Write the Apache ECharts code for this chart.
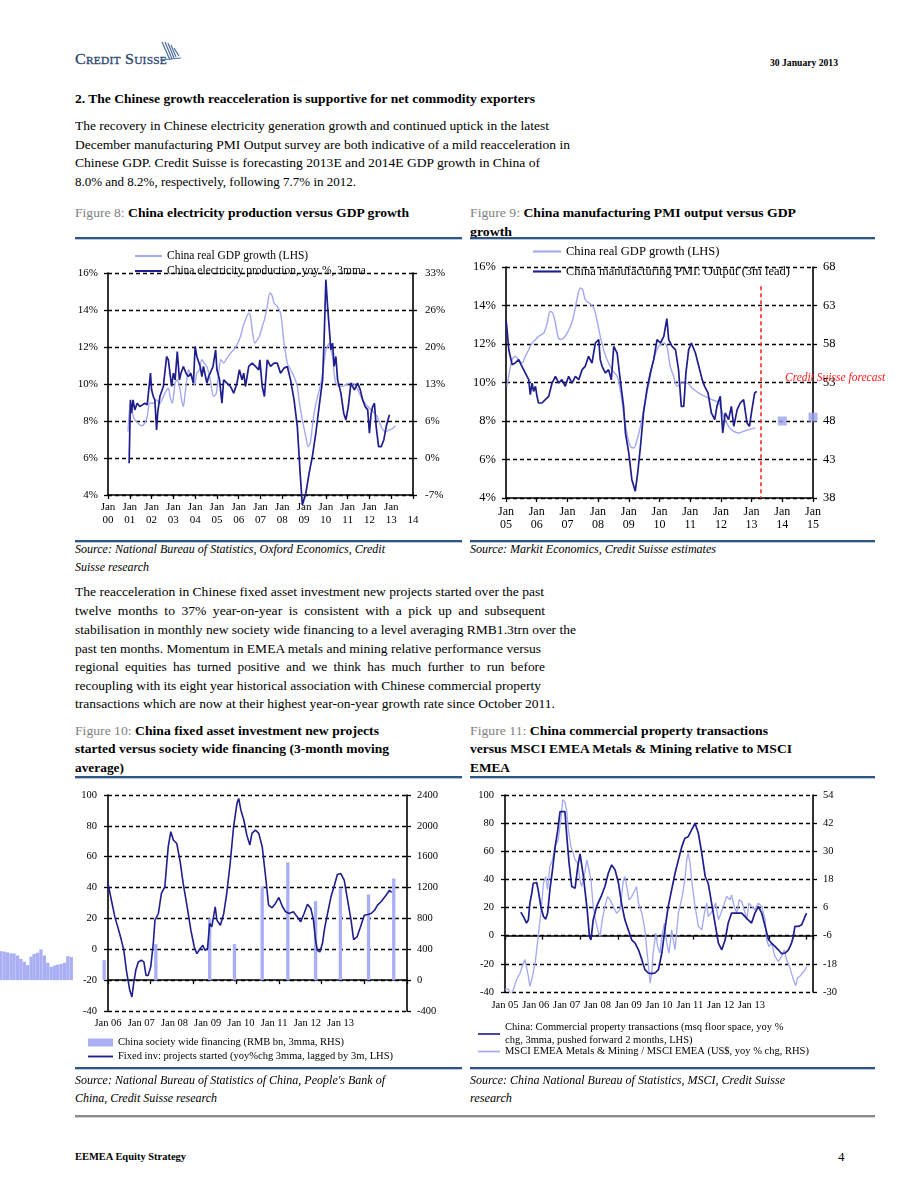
<!DOCTYPE html>
<html><head><meta charset="utf-8">
<script src="https://cdn.jsdelivr.net/npm/echarts@6/dist/echarts.min.js"></script>
<style>
html,body{margin:0;padding:0;background:#fff;}
#page{position:relative;width:920px;height:1191px;overflow:hidden;background:#fff;font-family:'Liberation Serif','Times New Roman',serif;color:#000;}
.t{position:absolute;white-space:nowrap;line-height:16px;transform-origin:0 50%;}
.body{font-size:13.5px;}
.b{font-weight:bold;}
.ft{font-size:13px;font-weight:bold;}
.ft .g{color:#808080;font-weight:normal;}
.src{font-size:11.5px;font-style:italic;}
.rule{position:absolute;height:2px;background:#2f5584;border-bottom:1px solid #b7c6da;}
.grule{position:absolute;height:2px;background:#8a8a8a;border-bottom:1px solid #d0d0d0;}
.ch{position:absolute;}
</style></head>
<body><div id="page">
<!-- header -->
<div class="t" style="left:75px;top:51px;font-size:15.5px;font-variant:small-caps;color:#2c4670;letter-spacing:0.2px;-webkit-text-stroke:0.3px #2c4670" data-w="92">Credit Suisse</div>
<svg style="position:absolute;left:158px;top:40px" width="26" height="24" viewBox="0 0 26 24">
<g stroke="#4d6e9c" stroke-width="1.2" fill="none">
<path d="M4 2 L12 20"/><path d="M7 2 L14 19"/><path d="M10 3 L16 18"/><path d="M13 5 L18 17"/><path d="M16 8 L21 16"/><path d="M2 20 L23 18"/>
</g></svg>
<div class="t b" style="left:770px;top:55px;font-size:10.5px" data-w="68">30 January 2013</div>
<div class="t b" style="left:75px;top:91px;font-size:13px" data-w="460">2. The Chinese growth reacceleration is supportive for net commodity exporters</div>
<div class="t body" style="left:75px;top:118px" data-w="474">The recovery in Chinese electricity generation growth and continued uptick in the latest</div>
<div class="t body" style="left:75px;top:137px" data-w="495">December manufacturing PMI Output survey are both indicative of a mild reacceleration in</div>
<div class="t body" style="left:75px;top:155px" data-w="465">Chinese GDP. Credit Suisse is forecasting 2013E and 2014E GDP growth in China of</div>
<div class="t body" style="left:75px;top:174px" data-w="281">8.0% and 8.2%, respectively, following 7.7% in 2012.</div>

<div class="t ft" style="left:75px;top:205px" data-w="334"><span class="g">Figure 8:</span> China electricity production versus GDP growth</div>
<div class="t ft" style="left:470px;top:205px" data-w="326"><span class="g">Figure 9:</span> China manufacturing PMI output versus GDP</div>
<div class="t ft" style="left:470px;top:224px" data-w="42">growth</div>
<div class="rule" style="left:75px;top:237px;width:387px"></div>
<div class="rule" style="left:470px;top:237px;width:405px"></div>

<div id="c8" class="ch" style="left:60px;top:240px;width:400px;height:300px"></div>
<div id="c9" class="ch" style="left:465px;top:240px;width:430px;height:298px"></div>

<div class="rule" style="left:75px;top:540px;width:387px"></div>
<div class="rule" style="left:470px;top:540px;width:405px"></div>
<div class="t src" style="left:75px;top:541px" data-w="310">Source: National Bureau of Statistics, Oxford Economics, Credit</div>
<div class="t src" style="left:75px;top:559px" data-w="74">Suisse research</div>
<div class="t src" style="left:470px;top:541px" data-w="246">Source: Markit Economics, Credit Suisse estimates</div>

<div class="t body" style="left:75px;top:584px" data-w="469">The reacceleration in Chinese fixed asset investment new projects started over the past</div>
<div class="t body" style="left:75px;top:603px;word-spacing:3px" data-w="470">twelve months to 37% year-on-year is consistent with a pick up and subsequent</div>
<div class="t body" style="left:75px;top:622px" data-w="501">stabilisation in monthly new society wide financing to a level averaging RMB1.3trn over the</div>
<div class="t body" style="left:75px;top:641px" data-w="466">past ten months. Momentum in EMEA metals and mining relative performance versus</div>
<div class="t body" style="left:75px;top:659px;word-spacing:3px" data-w="470">regional equities has turned positive and we think has much further to run before</div>
<div class="t body" style="left:75px;top:678px" data-w="466">recoupling with its eight year historical association with Chinese commercial property</div>
<div class="t body" style="left:75px;top:696px" data-w="480">transactions which are now at their highest year-on-year growth rate since October 2011.</div>

<div class="t ft" style="left:75px;top:723px" data-w="304"><span class="g">Figure 10:</span> China fixed asset investment new projects</div>
<div class="t ft" style="left:75px;top:741px" data-w="314">started versus society wide financing (3-month moving</div>
<div class="t ft" style="left:75px;top:760px" data-w="49">average)</div>
<div class="t ft" style="left:470px;top:723px" data-w="298"><span class="g">Figure 11:</span> China commercial property transactions</div>
<div class="t ft" style="left:470px;top:741px" data-w="322">versus MSCI EMEA Metals &amp; Mining relative to MSCI</div>
<div class="t ft" style="left:470px;top:760px" data-w="40">EMEA</div>
<div class="rule" style="left:75px;top:776px;width:387px"></div>
<div class="rule" style="left:470px;top:776px;width:405px"></div>

<div id="c10" class="ch" style="left:0px;top:780px;width:455px;height:300px"></div>
<div id="c11" class="ch" style="left:465px;top:780px;width:420px;height:300px"></div>

<div class="rule" style="left:75px;top:1067px;width:387px"></div>
<div class="rule" style="left:470px;top:1067px;width:405px"></div>
<div class="t src" style="left:75px;top:1072px" data-w="310">Source: National Bureau of Statistics of China, People's Bank of</div>
<div class="t src" style="left:75px;top:1090px" data-w="142">China, Credit Suisse research</div>
<div class="t src" style="left:470px;top:1072px" data-w="315">Source: China National Bureau of Statistics, MSCI, Credit Suisse</div>
<div class="t src" style="left:470px;top:1090px" data-w="42">research</div>
<div class="grule" style="left:75px;top:1115px;width:800px"></div>

<div class="t b" style="left:75px;top:1149px;font-size:10.5px" data-w="111">EEMEA Equity Strategy</div>
<div class="t" style="left:838px;top:1149px;font-size:13px">4</div>
</div>
<script>
// ---------------- DATA ----------------
// Figure 8 : [year, value]
const fig8Gdp = [[2000.92,7.43],[2001.03,8.96],[2001.12,8.42],[2001.23,8.06],[2001.38,7.88],[2001.54,7.74],[2001.69,7.88],[2001.80,8.24],[2001.92,8.96],[2002.08,8.96],[2002.23,9.14],[2002.38,8.96],[2002.54,9.32],[2002.69,9.68],[2002.77,9.77],[2002.85,9.32],[2002.95,8.96],[2003.08,10.05],[2003.18,10.23],[2003.28,9.87],[2003.38,9.14],[2003.46,8.78],[2003.54,9.50],[2003.62,10.23],[2003.69,10.77],[2003.77,10.59],[2003.88,10.23],[2003.97,9.96],[2004.08,10.59],[2004.20,10.77],[2004.31,11.31],[2004.42,11.13],[2004.54,10.95],[2004.69,10.23],[2004.85,9.32],[2004.97,9.50],[2005.08,10.59],[2005.18,11.31],[2005.31,11.13],[2005.46,11.40],[2005.62,11.67],[2005.77,11.85],[2005.92,12.12],[2006.08,12.57],[2006.20,13.11],[2006.31,13.47],[2006.46,13.83],[2006.54,13.65],[2006.62,12.93],[2006.74,12.21],[2006.85,12.39],[2006.95,12.57],[2007.08,13.11],[2007.18,13.47],[2007.31,14.20],[2007.43,14.92],[2007.54,14.74],[2007.62,14.38],[2007.77,14.20],[2007.92,13.83],[2008.00,13.11],[2008.08,12.21],[2008.15,11.67],[2008.23,11.13],[2008.38,10.77],[2008.54,10.41],[2008.69,9.87],[2008.77,9.14],[2008.92,8.06],[2009.08,7.16],[2009.18,6.62],[2009.28,6.80],[2009.38,7.70],[2009.46,8.42],[2009.62,9.32],[2009.74,9.87],[2009.85,10.59],[2010.00,11.85],[2010.08,12.03],[2010.15,12.21],[2010.23,11.85],[2010.31,11.49],[2010.38,10.59],[2010.46,10.05],[2010.62,9.87],[2010.77,9.87],[2010.92,9.96],[2011.08,10.05],[2011.23,10.05],[2011.38,9.87],[2011.54,9.50],[2011.69,9.14],[2011.80,8.96],[2011.92,8.78],[2012.08,8.60],[2012.23,8.42],[2012.35,8.24],[2012.51,7.79],[2012.62,7.52],[2012.77,7.43],[2012.92,7.52],[2013.08,7.61],[2013.20,7.74]];
const fig8Elec = [[2000.97,-1.29],[2001.03,10.14],[2001.08,7.74],[2001.15,10.14],[2001.23,8.34],[2001.34,9.54],[2001.46,8.94],[2001.58,9.24],[2001.69,9.54],[2001.80,9.24],[2001.89,9.54],[2001.95,14.95],[2002.00,11.95],[2002.08,10.74],[2002.15,10.14],[2002.23,4.73],[2002.28,7.74],[2002.38,10.74],[2002.54,12.55],[2002.69,17.96],[2002.77,17.36],[2002.92,12.55],[2003.00,14.95],[2003.08,13.75],[2003.18,18.86],[2003.28,13.75],[2003.35,14.95],[2003.46,16.16],[2003.58,14.95],[2003.69,14.35],[2003.80,14.95],[2003.92,13.15],[2004.00,19.77],[2004.08,17.96],[2004.23,16.16],[2004.31,14.35],[2004.38,16.16],[2004.54,13.15],[2004.62,14.35],[2004.69,14.95],[2004.82,16.16],[2004.94,19.17],[2005.00,15.56],[2005.12,13.75],[2005.23,9.54],[2005.31,13.75],[2005.46,13.15],[2005.62,12.55],[2005.77,11.35],[2005.92,13.15],[2006.03,15.56],[2006.15,13.75],[2006.23,14.95],[2006.31,12.55],[2006.46,16.16],[2006.62,16.76],[2006.77,16.16],[2006.92,15.56],[2006.97,17.36],[2007.08,12.55],[2007.18,10.74],[2007.31,17.36],[2007.46,16.16],[2007.62,16.76],[2007.77,16.76],[2007.92,14.95],[2008.08,15.86],[2008.23,16.16],[2008.38,13.75],[2008.46,11.95],[2008.54,10.14],[2008.69,5.33],[2008.82,-3.09],[2008.92,-8.80],[2009.08,-6.70],[2009.23,-3.09],[2009.38,-0.08],[2009.54,4.13],[2009.69,8.94],[2009.85,13.75],[2009.92,20.97],[2010.00,31.80],[2010.08,26.98],[2010.15,23.38],[2010.23,19.17],[2010.31,20.37],[2010.38,16.16],[2010.46,17.96],[2010.54,13.75],[2010.69,11.35],[2010.82,7.74],[2010.92,6.53],[2011.03,8.94],[2011.15,13.15],[2011.31,11.95],[2011.46,13.15],[2011.58,11.95],[2011.69,10.14],[2011.80,8.94],[2011.92,8.34],[2012.00,4.13],[2012.08,7.74],[2012.15,8.94],[2012.23,9.54],[2012.31,5.33],[2012.42,1.72],[2012.54,1.72],[2012.66,2.92],[2012.77,5.33],[2012.85,6.53],[2012.92,7.44]];
const fig8LeftTicks = [4, 6, 8, 10, 12, 14, 16];
const fig8RightTickLabels = ['-7%', '0%', '6%', '13%', '20%', '26%', '33%'];

// Figure 9
const fig9Gdp = [[2005.03,9.80],[2005.20,11.19],[2005.30,11.36],[2005.41,11.19],[2005.52,11.01],[2005.63,11.36],[2005.74,11.71],[2005.85,12.05],[2005.96,12.23],[2006.06,12.40],[2006.23,12.57],[2006.34,13.09],[2006.44,13.70],[2006.52,13.61],[2006.61,13.09],[2006.69,12.40],[2006.77,12.23],[2006.88,12.31],[2006.99,12.57],[2007.10,12.92],[2007.20,13.44],[2007.31,14.30],[2007.42,14.91],[2007.50,14.82],[2007.58,14.30],[2007.71,14.13],[2007.86,13.87],[2007.96,13.26],[2008.07,12.40],[2008.18,11.71],[2008.29,11.19],[2008.45,10.67],[2008.62,10.32],[2008.72,9.63],[2008.83,8.42],[2008.94,7.38],[2009.05,6.68],[2009.16,6.60],[2009.27,7.03],[2009.38,7.72],[2009.48,8.59],[2009.59,9.45],[2009.70,10.32],[2009.81,11.19],[2009.97,11.88],[2010.14,12.05],[2010.24,11.88],[2010.35,10.84],[2010.46,10.32],[2010.57,9.80],[2010.73,9.97],[2010.90,9.97],[2011.06,9.71],[2011.28,9.45],[2011.49,9.28],[2011.71,9.11],[2011.93,8.94],[2012.09,8.24],[2012.25,7.72],[2012.42,7.46],[2012.58,7.38],[2012.74,7.46],[2012.90,7.55],[2013.12,7.64]];
const fig9Pmi = [[2005.00,61.16],[2005.03,60.08],[2005.09,57.26],[2005.20,55.32],[2005.30,55.53],[2005.41,55.97],[2005.47,56.18],[2005.52,55.10],[2005.63,54.23],[2005.74,53.37],[2005.79,51.42],[2005.85,52.93],[2005.90,51.85],[2005.96,52.50],[2006.01,51.20],[2006.06,50.34],[2006.17,50.34],[2006.28,50.77],[2006.39,51.20],[2006.50,52.93],[2006.61,53.80],[2006.72,52.93],[2006.82,53.37],[2006.93,52.50],[2007.04,53.80],[2007.15,52.93],[2007.26,53.80],[2007.37,53.37],[2007.48,54.67],[2007.58,55.10],[2007.69,56.40],[2007.80,55.53],[2007.91,58.13],[2008.02,58.56],[2008.07,55.97],[2008.13,55.10],[2008.24,54.23],[2008.34,54.67],[2008.43,53.37],[2008.51,57.70],[2008.62,56.83],[2008.72,53.37],[2008.83,49.90],[2008.89,46.44],[2009.00,43.84],[2009.10,40.38],[2009.21,38.87],[2009.29,41.25],[2009.38,44.71],[2009.48,49.04],[2009.59,52.07],[2009.70,54.23],[2009.81,55.97],[2009.92,58.56],[2010.03,58.13],[2010.14,58.99],[2010.24,61.29],[2010.30,58.56],[2010.41,57.70],[2010.52,57.26],[2010.62,54.67],[2010.71,49.90],[2010.79,49.90],[2010.86,54.23],[2010.95,57.26],[2011.04,58.13],[2011.17,56.83],[2011.28,55.10],[2011.39,53.37],[2011.47,52.50],[2011.58,51.64],[2011.69,49.04],[2011.80,48.17],[2011.87,49.90],[2011.98,51.20],[2012.06,46.44],[2012.14,49.04],[2012.25,48.17],[2012.34,49.90],[2012.42,47.31],[2012.53,49.47],[2012.63,50.34],[2012.74,50.77],[2012.85,47.74],[2012.93,47.31],[2013.01,49.47],[2013.10,51.64],[2013.17,51.85]];
const fig9Forecast = [[2014, 8.0], [2015, 8.2]];
const fig9ForecastStart = 2013.3;
const fig9RightTicks = [38, 43, 48, 53, 58, 63, 68];

// Figure 10
const fig10Financing = [[2003.49,376],[2003.57,370],[2003.65,360],[2003.73,346],[2003.80,346],[2003.88,320],[2003.96,275],[2004.04,240],[2004.12,195],[2004.20,303],[2004.27,340],[2004.35,355],[2004.43,398],[2004.51,320],[2004.59,225],[2004.67,173],[2004.75,190],[2004.82,200],[2004.90,210],[2004.98,225],[2005.06,311],[2005.14,300],
  [2005.91,259],[2007.12,467],[2008.38,800],[2008.96,467],[2009.61,1211],[2010.21,1527],[2010.86,1025],[2011.44,1198],[2012.10,1111],[2012.69,1319]];
const fig10Projects = [[2004.08,63.2],[2004.12,40.5],[2004.17,27.5],[2004.20,18.9],[2004.27,13.4],[2004.33,3.7],[2004.38,14.5],[2004.43,21.0],[2004.49,15.6],[2004.55,24.3],[2004.61,29.7],[2004.67,29.7],[2004.72,28.0],[2004.78,23.2],[2004.85,10.2],[2004.90,1.5],[2004.96,4.8],[2005.02,8.0],[2005.10,21.0],[2005.16,40.5],[2005.22,41.0],[2005.27,44.8],[2005.32,51.3],[2005.35,44.8],[2005.40,35.0],[2005.47,34.4],[2005.53,28.6],[2005.61,27.9],[2005.69,40.5],[2005.76,45.3],[2005.92,47.6],[2006.00,42.7],[2006.08,31.8],[2006.16,21.0],[2006.24,13.4],[2006.31,6.3],[2006.37,-0.6],[2006.43,-13.6],[2006.47,-20.1],[2006.51,-26.6],[2006.56,-30.9],[2006.60,-22.3],[2006.65,-13.6],[2006.71,-8.2],[2006.78,-7.1],[2006.84,-8.2],[2006.89,-16.9],[2006.94,-16.9],[2007.00,-11.4],[2007.06,3.7],[2007.10,18.9],[2007.18,23.2],[2007.25,36.2],[2007.33,40.5],[2007.41,66.5],[2007.47,76.2],[2007.53,70.8],[2007.61,68.6],[2007.69,56.7],[2007.76,42.7],[2007.84,29.7],[2007.94,12.4],[2008.02,1.5],[2008.08,-2.8],[2008.16,0.5],[2008.22,2.6],[2008.27,-0.6],[2008.33,0.5],[2008.38,16.7],[2008.43,14.5],[2008.51,27.5],[2008.55,18.9],[2008.63,15.6],[2008.71,23.2],[2008.78,36.2],[2008.86,55.6],[2008.94,79.4],[2009.02,94.6],[2009.06,97.8],[2009.11,90.3],[2009.18,83.8],[2009.25,74.0],[2009.32,67.5],[2009.37,75.1],[2009.45,77.3],[2009.53,75.1],[2009.61,66.5],[2009.69,47.0],[2009.76,28.6],[2009.84,26.9],[2009.92,29.7],[2010.00,33.6],[2010.08,27.9],[2010.16,24.3],[2010.24,23.2],[2010.34,24.3],[2010.43,21.0],[2010.51,17.8],[2010.59,23.2],[2010.67,29.2],[2010.75,26.4],[2010.81,18.9],[2010.86,5.9],[2010.90,-0.6],[2010.96,-1.7],[2011.02,3.7],[2011.07,13.4],[2011.14,23.2],[2011.22,34.0],[2011.29,40.5],[2011.37,48.5],[2011.45,49.1],[2011.53,44.8],[2011.61,31.8],[2011.69,18.9],[2011.75,6.3],[2011.83,8.0],[2011.91,14.5],[2012.00,22.1],[2012.08,22.5],[2012.16,23.2],[2012.24,25.3],[2012.31,28.6],[2012.39,30.8],[2012.51,35.0],[2012.59,38.3],[2012.64,36.8]];
const fig10Labels = ['Jan 06', 'Jan 07', 'Jan 08', 'Jan 09', 'Jan 10', 'Jan 11', 'Jan 12', 'Jan 13', '', ''];

// Figure 11
const fig11Property = [[2005.42,16.8],[2005.51,12.5],[2005.57,9.0],[2005.62,11.3],[2005.66,23.2],[2005.71,30.2],[2005.75,37.3],[2005.84,37.8],[2005.88,32.6],[2005.95,20.8],[2006.02,13.7],[2006.08,11.8],[2006.13,16.1],[2006.19,32.6],[2006.26,46.8],[2006.33,63.3],[2006.40,75.2],[2006.46,88.2],[2006.59,88.2],[2006.64,70.4],[2006.70,51.5],[2006.77,35.0],[2006.86,33.8],[2006.93,49.2],[2006.99,58.1],[2007.03,58.6],[2007.08,42.1],[2007.12,32.6],[2007.18,18.4],[2007.24,-0.5],[2007.28,-2.9],[2007.34,11.3],[2007.43,20.8],[2007.55,27.9],[2007.65,35.0],[2007.74,44.4],[2007.83,50.3],[2007.92,46.8],[2008.01,37.3],[2008.09,23.2],[2008.18,11.3],[2008.27,4.2],[2008.36,-2.9],[2008.45,-5.2],[2008.54,-10.0],[2008.63,-17.0],[2008.71,-24.1],[2008.80,-26.5],[2008.89,-27.0],[2008.98,-26.5],[2009.07,-24.1],[2009.16,-12.3],[2009.24,4.2],[2009.33,20.8],[2009.42,32.6],[2009.51,44.4],[2009.60,53.9],[2009.69,63.3],[2009.77,69.3],[2009.86,70.4],[2009.95,75.2],[2010.04,79.9],[2010.13,72.8],[2010.22,58.6],[2010.31,42.1],[2010.39,37.3],[2010.48,23.2],[2010.57,9.0],[2010.66,-5.2],[2010.75,-10.0],[2010.84,-2.9],[2010.92,9.0],[2011.01,16.1],[2011.10,16.1],[2011.28,16.1],[2011.45,11.3],[2011.54,9.0],[2011.63,16.1],[2011.72,20.8],[2011.81,16.1],[2011.90,6.6],[2011.99,-2.9],[2012.07,-5.2],[2012.16,-7.6],[2012.25,-10.0],[2012.34,-12.8],[2012.43,-12.3],[2012.52,-10.0],[2012.60,-5.2],[2012.65,-0.5],[2012.69,6.6],[2012.78,6.6],[2012.87,7.8],[2012.96,13.7],[2013.00,16.1]];
const fig11Metals = [[2005.00,-29.0],[2005.09,-28.7],[2005.16,-31.1],[2005.22,-29.0],[2005.31,-24.7],[2005.40,-21.9],[2005.49,-17.6],[2005.53,-16.2],[2005.62,-23.3],[2005.66,-27.6],[2005.71,-24.7],[2005.80,-17.6],[2005.88,-6.3],[2005.95,3.6],[2006.02,16.4],[2006.08,19.2],[2006.13,13.6],[2006.19,23.5],[2006.26,26.3],[2006.33,32.0],[2006.41,34.8],[2006.49,44.8],[2006.53,51.9],[2006.59,51.2],[2006.64,46.9],[2006.68,39.1],[2006.75,32.0],[2006.81,29.2],[2006.86,26.3],[2006.93,24.9],[2006.99,17.8],[2007.03,15.0],[2007.10,19.2],[2007.17,26.3],[2007.21,23.5],[2007.28,17.8],[2007.34,6.5],[2007.40,0.8],[2007.46,-3.5],[2007.52,-6.3],[2007.58,0.8],[2007.65,6.5],[2007.72,10.7],[2007.79,9.3],[2007.87,6.5],[2007.96,3.6],[2008.05,5.1],[2008.14,17.8],[2008.18,19.2],[2008.23,15.0],[2008.29,9.3],[2008.36,10.7],[2008.45,13.6],[2008.49,15.0],[2008.54,7.9],[2008.63,3.6],[2008.71,-3.5],[2008.78,-14.8],[2008.85,-26.2],[2008.89,-21.9],[2008.93,-13.4],[2009.00,-4.9],[2009.05,-10.6],[2009.11,-13.4],[2009.16,-6.3],[2009.23,-0.6],[2009.29,-9.1],[2009.35,-13.4],[2009.42,-3.5],[2009.51,-12.0],[2009.60,3.6],[2009.64,6.5],[2009.70,10.7],[2009.77,17.8],[2009.82,26.3],[2009.86,29.2],[2009.91,24.9],[2009.95,17.8],[2010.04,6.5],[2010.13,-2.0],[2010.22,-3.5],[2010.29,3.6],[2010.35,7.9],[2010.39,2.2],[2010.46,3.6],[2010.53,5.8],[2010.59,7.9],[2010.66,0.8],[2010.73,3.6],[2010.79,6.5],[2010.88,10.7],[2010.97,9.3],[2011.01,11.4],[2011.08,6.5],[2011.15,3.6],[2011.21,9.3],[2011.28,8.6],[2011.37,3.6],[2011.41,0.8],[2011.47,7.9],[2011.54,6.5],[2011.63,5.1],[2011.72,7.9],[2011.81,6.5],[2011.90,0.8],[2011.94,-7.7],[2012.00,-10.6],[2012.07,-9.1],[2012.16,-14.8],[2012.25,-16.9],[2012.34,-14.8],[2012.41,-12.0],[2012.47,-16.2],[2012.56,-19.8],[2012.65,-24.7],[2012.71,-27.3],[2012.76,-24.0],[2012.82,-23.3],[2012.89,-21.9],[2012.96,-20.5],[2013.00,-19.1]];
const fig11Labels = ['Jan 05', 'Jan 06', 'Jan 07', 'Jan 08', 'Jan 09', 'Jan 10', 'Jan 11', 'Jan 12', 'Jan 13', '', ''];
const fig11RightTicks = [-30, -18, -6, 6, 18, 30, 42, 54];

// ---------------- STYLE ----------------
const FONT = "'Liberation Serif','Times New Roman',serif";
const DARK = '#1e1e8e';
const LIGHT = '#a2a8f2';
const BARC = '#a9aef5';
const LINE_ICON = 'path://M0,0H40V3H0Z';
const axisLine = { show: true, lineStyle: { color: '#000', width: 1.6 } };
const dashed = { show: true, lineStyle: { color: '#000', width: 1.3, type: [4, 3] } };
const tick = { show: true, length: 4, lineStyle: { color: '#000', width: 1.3 } };
function lbl(size, extra) { return Object.assign({ color: '#000', fontFamily: FONT, fontSize: size }, extra || {}); }

// textual scaling of page lines
document.querySelectorAll('[data-w]').forEach(el => {
  const w = el.getBoundingClientRect().width;
  const target = parseFloat(el.dataset.w);
  if (w > 0) el.style.transform = 'scaleX(' + (target / w).toFixed(4) + ')';
});

// ---------------- FIG 8 ----------------
const map8 = v => -7 + (v - 4) * 40 / 12;
const c8 = echarts.init(document.getElementById('c8'));
c8.setOption({
  animation: false,
  grid: { left: 48, top: 33, width: 305, height: 222 },
  legend: {
    orient: 'vertical', left: 75, top: 10, padding: 0, itemGap: 3, itemWidth: 27, itemHeight: 10,
    textStyle: { fontFamily: FONT, fontSize: 11.5, color: '#000' },
    data: [{ name: 'China real GDP growth (LHS)', icon: LINE_ICON }, { name: 'China electricity production, yoy %, 3mma', icon: LINE_ICON }]
  },
  xAxis: {
    type: 'value', min: 2000, max: 2014, interval: 1,
    axisLine: Object.assign({ onZero: false }, axisLine), axisTick: tick, splitLine: { show: false },
    axisLabel: lbl(11, { margin: 6, lineHeight: 13, formatter: v => (v < 2014 ? 'Jan' : ' ') + '\n' + String(v).slice(2) })
  },
  yAxis: [
    { type: 'value', min: 4, max: 16, interval: 2, axisLine: axisLine, axisTick: tick, splitLine: dashed,
      axisLabel: lbl(11, { margin: 10, formatter: '{value}%' }) },
    { type: 'value', min: -7, max: 33, position: 'right', axisLine: axisLine, splitLine: { show: false },
      axisTick: Object.assign({ customValues: fig8LeftTicks.map(map8) }, tick),
      axisLabel: lbl(11, { margin: 12, customValues: fig8LeftTicks.map(map8),
        formatter: v => fig8RightTickLabels[fig8LeftTicks.map(map8).findIndex(t => Math.abs(t - v) < 0.01)] }) }
  ],
  series: [
    { name: 'China real GDP growth (LHS)', type: 'line', yAxisIndex: 0, data: fig8Gdp, symbol: 'none', smooth: 0.3,
      lineStyle: { color: LIGHT, width: 1.4 }, itemStyle: { color: LIGHT } },
    { name: 'China electricity production, yoy %, 3mma', type: 'line', yAxisIndex: 1, data: fig8Elec, symbol: 'none', clip: false,
      lineStyle: { color: DARK, width: 1.7 }, itemStyle: { color: DARK } }
  ]
});

// ---------------- FIG 9 ----------------
const c9 = echarts.init(document.getElementById('c9'));
c9.setOption({
  animation: false,
  grid: { left: 41, top: 27, width: 307, height: 231 },
  legend: {
    orient: 'vertical', left: 68, top: 5, padding: 0, itemGap: 7, itemWidth: 28, itemHeight: 10,
    textStyle: { fontFamily: FONT, fontSize: 12.5, color: '#000' },
    data: [{ name: 'China real GDP growth (LHS)', icon: LINE_ICON }, { name: 'China manufacturing PMI: Output (3m lead)', icon: LINE_ICON }]
  },
  xAxis: {
    type: 'value', min: 2005, max: 2015, interval: 1,
    axisLine: Object.assign({ onZero: false }, axisLine), axisTick: tick, splitLine: { show: false },
    axisLabel: lbl(12, { margin: 7, lineHeight: 13, formatter: v => 'Jan\n' + String(v).slice(2) })
  },
  yAxis: [
    { type: 'value', min: 4, max: 16, interval: 2, axisLine: axisLine, axisTick: tick, splitLine: dashed,
      axisLabel: lbl(12.5, { margin: 10, formatter: '{value}%' }) },
    { type: 'value', min: 38, max: 68, position: 'right', axisLine: axisLine, splitLine: { show: false },
      axisTick: Object.assign({ customValues: fig9RightTicks }, tick),
      axisLabel: lbl(12.5, { margin: 10, customValues: fig9RightTicks }) }
  ],
  graphic: [{ type: 'text', left: 320, top: 132, z: 10,
    style: { text: 'Credit Suisse forecast', fill: '#ff1a1a', font: 'italic 11.5px ' + FONT } }],
  series: [
    { name: 'China real GDP growth (LHS)', type: 'line', yAxisIndex: 0, data: fig9Gdp, symbol: 'none', smooth: 0.3, clip: false,
      lineStyle: { color: LIGHT, width: 1.4 }, itemStyle: { color: LIGHT },
      markLine: { silent: true, symbol: 'none', label: { show: false },
        lineStyle: { color: '#ff2a2a', type: [4, 3], width: 1.6 },
        data: [[{ coord: [fig9ForecastStart, 15] }, { coord: [fig9ForecastStart, 4] }]] } },
    { name: 'China manufacturing PMI: Output (3m lead)', type: 'line', yAxisIndex: 1, data: fig9Pmi, symbol: 'none',
      lineStyle: { color: DARK, width: 1.7 }, itemStyle: { color: DARK } },
    { name: 'CS forecast', type: 'scatter', yAxisIndex: 0, data: fig9Forecast, symbol: 'rect', symbolSize: 9, clip: false,
      itemStyle: { color: '#9ca2ee' } }
  ]
});

// ---------------- FIG 10 ----------------
const c10 = echarts.init(document.getElementById('c10'));
c10.setOption({
  animation: false,
  grid: { left: 108, top: 15, width: 299, height: 216 },
  legend: {
    orient: 'vertical', left: 88, top: 257, padding: 0, itemGap: 3, itemWidth: 25, itemHeight: 8,
    textStyle: { fontFamily: FONT, fontSize: 10.5, color: '#000' },
    data: [{ name: 'China society wide financing (RMB bn, 3mma, RHS)', icon: 'rect' },
           { name: 'Fixed inv: projects started (yoy%chg 3mma, lagged by 3m, LHS)', icon: LINE_ICON }]
  },
  xAxis: [
    { type: 'value', min: 2006, max: 2013, interval: 1,
      axisLine: Object.assign({ onZero: true, onZeroAxisIndex: 1 }, axisLine), axisTick: tick,
      splitLine: { show: false }, axisLabel: { show: false } },
    { type: 'category', data: fig10Labels, boundaryGap: false, position: 'bottom',
      axisLine: { show: false, onZero: false }, axisTick: { show: false },
      axisLabel: lbl(10.5, { margin: 7, interval: 0 }) }
  ],
  yAxis: [
    { type: 'value', min: -40, max: 100, interval: 20, axisLine: axisLine, axisTick: tick, splitLine: dashed,
      axisLabel: lbl(10.5, { margin: 11 }) },
    { type: 'value', min: -400, max: 2400, interval: 400, position: 'right', axisLine: axisLine, axisTick: tick,
      splitLine: { show: false }, axisLabel: lbl(10.5, { margin: 10, formatter: v => String(v) }) }
  ],
  series: [
    { name: 'China society wide financing (RMB bn, 3mma, RHS)', type: 'bar', xAxisIndex: 0, yAxisIndex: 1,
      data: fig10Financing, barWidth: 3.3, clip: false, itemStyle: { color: BARC } },
    { name: 'Fixed inv: projects started (yoy%chg 3mma, lagged by 3m, LHS)', type: 'line', xAxisIndex: 0, yAxisIndex: 0,
      data: fig10Projects, symbol: 'none', clip: false, lineStyle: { color: DARK, width: 1.6 }, itemStyle: { color: DARK } }
  ]
});

// ---------------- FIG 11 ----------------
const c11 = echarts.init(document.getElementById('c11'));
c11.setOption({
  animation: false,
  grid: { left: 40, top: 15, width: 308, height: 197 },
  legend: {
    orient: 'vertical', left: 13, top: 241, padding: 0, itemGap: -2, itemWidth: 22, itemHeight: 8,
    textStyle: { fontFamily: FONT, fontSize: 10.5, color: '#000', lineHeight: 13 },
    data: [{ name: 'prop', icon: LINE_ICON }, { name: 'metals', icon: LINE_ICON }],
    formatter: n => n === 'prop'
      ? 'China: Commercial property transactions (msq floor space, yoy %\nchg, 3mma, pushed forward 2 months, LHS)'
      : 'MSCI EMEA Metals & Mining / MSCI EMEA (US$, yoy % chg, RHS)'
  },
  xAxis: [
    { type: 'value', min: 2005, max: 2013.17, interval: 1,
      axisLine: Object.assign({ onZero: true, onZeroAxisIndex: 0 }, axisLine), axisTick: tick,
      splitLine: { show: false }, axisLabel: { show: false } },
    { type: 'category', data: fig11Labels, boundaryGap: false, position: 'bottom',
      axisLine: { show: false, onZero: false }, axisTick: { show: false },
      axisLabel: lbl(10.5, { margin: 8, interval: 0 }) }
  ],
  yAxis: [
    { type: 'value', min: -40, max: 100, interval: 20, axisLine: axisLine, axisTick: tick, splitLine: dashed,
      axisLabel: lbl(10.5, { margin: 11 }) },
    { type: 'value', min: -30, max: 54, position: 'right', axisLine: axisLine, splitLine: { show: false },
      axisTick: Object.assign({ customValues: fig11RightTicks }, tick),
      axisLabel: lbl(10.5, { margin: 10, customValues: fig11RightTicks }) }
  ],
  series: [
    { name: 'metals', type: 'line', xAxisIndex: 0, yAxisIndex: 1, data: fig11Metals, symbol: 'none',
      lineStyle: { color: LIGHT, width: 1.3 }, itemStyle: { color: LIGHT } },
    { name: 'prop', type: 'line', xAxisIndex: 0, yAxisIndex: 0, data: fig11Property, symbol: 'none',
      lineStyle: { color: DARK, width: 1.7 }, itemStyle: { color: DARK } }
  ]
});
</script>
</body></html>
